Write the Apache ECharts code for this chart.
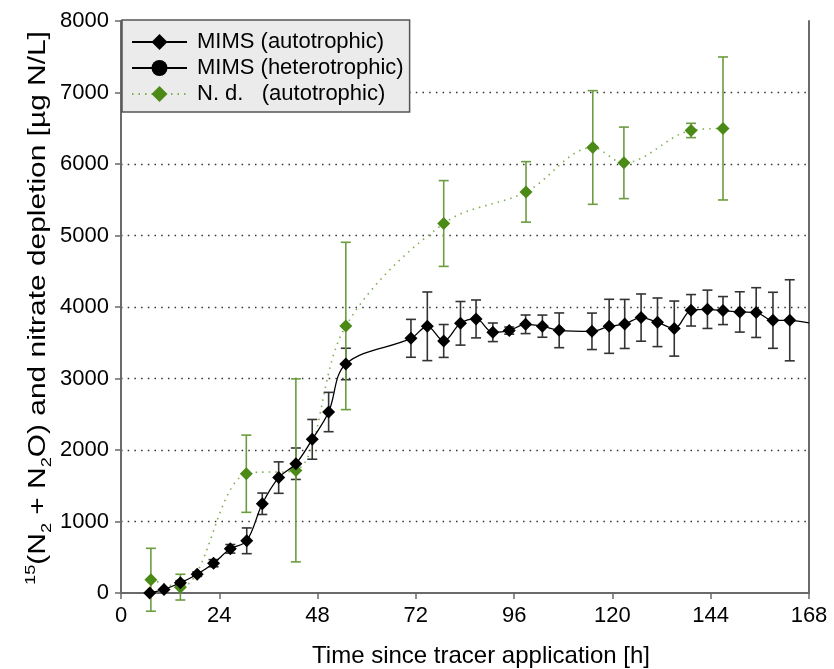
<!DOCTYPE html>
<html>
<head>
<meta charset="utf-8">
<script src="https://cdn.jsdelivr.net/npm/echarts@6/dist/echarts.min.js"></script>
<style>html,body{margin:0;padding:0;background:#fff;}#c{width:834px;height:669px;}</style>
</head>
<body>
<div id="c"></div>
<script>
// ---- data ----
var xTicks = [0, 24, 48, 72, 96, 120, 144, 168];
var yTicks = [0, 1000, 2000, 3000, 4000, 5000, 6000, 7000, 8000];

var autoTime  = [7, 10.5, 14.5, 18.6, 22.6, 26.7, 30.7, 34.5, 38.5, 42.7, 46.7, 50.7, 54.9, 70.8, 74.8, 78.8, 82.9, 86.7, 90.8, 94.8, 98.8, 102.9, 107, 115, 119.2, 123, 127, 131, 135.1, 139.2, 143.2, 147, 151.1, 155.1, 159.2, 163.3];
var autoValue = [0, 50, 143, 263, 417, 618, 730, 1248, 1614, 1808, 2149, 2531, 3203, 3562, 3730, 3525, 3772, 3833, 3646, 3670, 3758, 3732, 3674, 3660, 3730, 3763, 3852, 3786, 3698, 3954, 3968, 3950, 3931, 3922, 3814, 3814];
var autoErr   = [0, 0, 30, 30, 50, 60, 180, 150, 220, 220, 278, 275, 220, 265, 480, 230, 305, 265, 130, 50, 130, 155, 243, 255, 378, 343, 330, 340, 385, 220, 268, 196, 282, 348, 392, 567];
var autoTailTime  = [168];
var autoTailValue = [3777];

var heteroTime  = [];
var heteroValue = [];

var ndTime  = [7.3, 14.5, 30.6, 42.7, 54.9, 78.8, 98.9, 115.2, 122.8, 139.2, 147];
var ndValue = [185, 82, 1668, 1715, 3735, 5168, 5610, 6231, 6016, 6469, 6497];
var ndErr   = [440, 180, 540, 1280, 1170, 600, 423, 795, 500, 100, 1000];

var names = ['MIMS (autotrophic)', 'MIMS (heterotrophic)', 'N. d.   (autotrophic)'];
var xTitle = 'Time since tracer application [h]';
var yTitle = '{sup|15}(N{sub|2} + N{sub|2}O) and nitrate depletion [µg N/L]';

// ---- build ----
var FONT = 'Liberation Sans';
var GREEN = '#4b8a17';
var GREEN_BAR = '#6c9c40';
var AXIS = '#6a6a6a';

function pairs(xs, ys) { return xs.map(function (x, i) { return [x, ys[i]]; }); }
function triples(xs, ys, es) { return xs.map(function (x, i) { return [x, ys[i], es[i]]; }); }

var autoLine = pairs(autoTime, autoValue).concat(
  pairs(autoTailTime, autoTailValue).map(function (p) { return { value: p, symbol: 'none' }; })
);

function errRender(color, hw) {
  return function (params, api) {
    var x = api.value(0), y = api.value(1), e = api.value(2);
    if (!e) return null;
    var t = api.coord([x, y + e]);
    var b = api.coord([x, y - e]);
    var st = { stroke: color, lineWidth: 1.6 };
    return {
      type: 'group',
      children: [
        { type: 'line', shape: { x1: t[0], y1: t[1], x2: b[0], y2: b[1] }, style: st },
        { type: 'line', shape: { x1: t[0] - hw, y1: t[1], x2: t[0] + hw, y2: t[1] }, style: st },
        { type: 'line', shape: { x1: b[0] - hw, y1: b[1], x2: b[0] + hw, y2: b[1] }, style: st }
      ]
    };
  };
}

var chart = echarts.init(document.getElementById('c'), null, { renderer: 'canvas' });
chart.setOption({
  backgroundColor: '#ffffff',
  animation: false,
  textStyle: { fontFamily: FONT },
  grid: { left: 121, right: 25, top: 21, bottom: 76, containLabel: false, outerBoundsMode: 'none' },
  graphic: [{
    type: 'text',
    x: 39, y: 308,
    rotation: Math.PI / 2,
    scaleX: 1.3, scaleY: 1,
    silent: true,
    style: {
      text: yTitle,
      fontFamily: FONT, fontSize: 23, fill: '#000',
      align: 'center', verticalAlign: 'middle',
      rich: {
        sup: { fontFamily: FONT, fontSize: 14, fill: '#000', verticalAlign: 'top', lineHeight: 30, padding: [0, 0, 12, 0] },
        sub: { fontFamily: FONT, fontSize: 14, fill: '#000', verticalAlign: 'bottom', lineHeight: 30, padding: [10, 0, 0, 0] }
      }
    }
  }],
  legend: {
    data: names,
    orient: 'vertical',
    left: 122, top: 20,
    backgroundColor: '#ebebeb',
    borderColor: '#555',
    borderWidth: 1.5,
    borderRadius: 0,
    padding: [11, 6, 7, 9],
    itemWidth: 55, itemHeight: 20, itemGap: 4,
    textStyle: { fontFamily: FONT, fontSize: 22, color: '#000', padding: [0, 0, 0, 5] }
  },
  xAxis: {
    type: 'value', min: 0, max: 168, interval: 24,
    name: xTitle,
    nameLocation: 'middle', nameGap: 51,
    nameTextStyle: { fontFamily: FONT, fontSize: 24, color: '#000', padding: [0, 0, 0, 32] },
    axisLine: { show: true, onZero: false, lineStyle: { color: AXIS, width: 2 } },
    axisTick: { show: true, length: 6, lineStyle: { color: AXIS, width: 1.5 } },
    axisLabel: { fontFamily: FONT, fontSize: 22, color: '#000', margin: 12,
      formatter: function (v) { return xTicks.indexOf(v) >= 0 ? String(v) : ''; } },
    splitLine: { show: false }
  },
  yAxis: [{
    type: 'value', min: 0, max: 8000, interval: 1000,
    axisLine: { show: true, lineStyle: { color: AXIS, width: 2 } },
    axisTick: { show: true, length: 6, lineStyle: { color: AXIS, width: 1.5 } },
    axisLabel: { fontFamily: FONT, fontSize: 22, color: '#000', margin: 12,
      formatter: function (v) { return yTicks.indexOf(v) >= 0 ? String(v) : ''; } },
    splitLine: { show: true, showMinLine: false, showMaxLine: false,
      lineStyle: { color: '#333', width: 1.3, type: [1.5, 5.2] } }
  }, {
    type: 'value', min: 0, max: 8000, interval: 1000, position: 'right',
    axisLine: { show: true, lineStyle: { color: AXIS, width: 2 } },
    axisTick: { show: false }, axisLabel: { show: false }, splitLine: { show: false }
  }],
  series: [
    {
      type: 'custom', name: 'autoErr', renderItem: errRender('#333', 5),
      data: triples(autoTime, autoValue, autoErr), z: 2, silent: true
    },
    {
      type: 'custom', name: 'ndErr', renderItem: errRender(GREEN_BAR, 5),
      data: triples(ndTime, ndValue, ndErr), z: 2, silent: true
    },
    {
      name: names[2], type: 'line', data: pairs(ndTime, ndValue), smooth: 0.35,
      symbol: 'diamond', symbolSize: 13,
      itemStyle: { color: GREEN },
      lineStyle: { color: '#7fae55', width: 1.6, type: [1.5, 5] },
      z: 3
    },
    {
      name: names[1], type: 'line', data: pairs(heteroTime, heteroValue),
      symbol: 'circle', symbolSize: 12,
      itemStyle: { color: '#000' }, lineStyle: { color: '#000', width: 1.3 }, z: 4
    },
    {
      name: names[0], type: 'line', data: autoLine, smooth: 0.35,
      symbol: 'diamond', symbolSize: 13,
      itemStyle: { color: '#000' }, lineStyle: { color: '#000', width: 1.3 }, z: 5
    }
  ]
});
</script>
</body>
</html>
